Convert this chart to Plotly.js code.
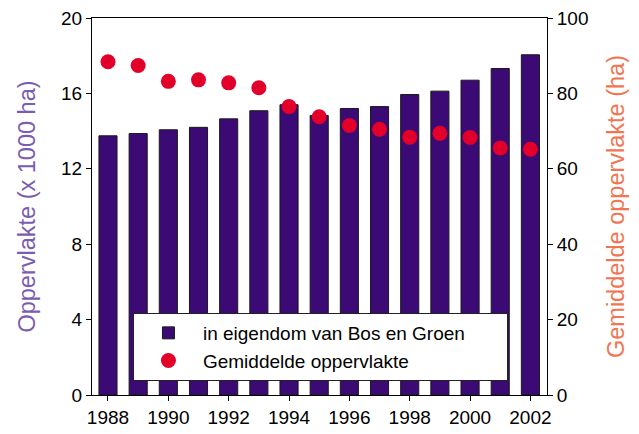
<!DOCTYPE html>
<html>
<head>
<meta charset="utf-8">
<script src="https://cdn.plot.ly/plotly-3.0.1.min.js"></script>
<style>html,body{margin:0;padding:0;background:#fff;}#chart{width:639px;height:434px;}</style>
</head>
<body>
<div id="chart"></div>
<script>
var years = [1988,1989,1990,1991,1992,1993,1994,1995,1996,1997,1998,1999,2000,2001,2002];
var oppervlakte = [13.75,13.87,14.07,14.2,14.65,15.08,15.4,14.83,15.2,15.3,15.94,16.12,16.7,17.32,18.05];
var gemiddelde = [88.4,87.4,83.2,83.6,82.8,81.5,76.5,73.8,71.5,70.5,68.4,69.4,68.3,65.5,65.2];
var xTicks = [1988,1990,1992,1994,1996,1998,2000,2002];
var barName = 'in eigendom van Bos en Groen';
var dotName = 'Gemiddelde oppervlakte';
var legendPad = '\u00a0\u00a0\u00a0\u00a0\u00a0\u00a0\u00a0';

var ff = 'Liberation Sans, Arial, sans-serif';
var traces = [
  {type:'bar', x:years, y:oppervlakte, name:barName + legendPad, width:0.6,
   marker:{color:'#3c0a74', line:{color:'#1a1a1a', width:1}}, yaxis:'y'},
  {type:'scatter', mode:'markers', x:years, y:gemiddelde, name:dotName, yaxis:'y2',
   marker:{color:'#e2002b', size:15}}
];
var font = {family:ff, size:19, color:'#000'};
var layout = {
  width:639, height:434,
  margin:{l:92, r:92, t:18, b:39},
  paper_bgcolor:'#fff', plot_bgcolor:'#fff',
  font: font,
  showlegend:true,
  legend:{x:0.09, y:0.2175, xanchor:'left', yanchor:'top', bgcolor:'#fff', bordercolor:'#222', borderwidth:1,
          font:{family:ff, size:19, color:'#000'}, itemwidth:59, tracegroupgap:0},
  xaxis:{range:[1987.47,2002.55], tickvals:xTicks, ticks:'outside', ticklen:5, tickcolor:'#000',
         showline:true, linecolor:'#000', linewidth:1, mirror:true, showgrid:false, zeroline:false,
         tickfont:font},
  yaxis:{range:[0,20], dtick:4, tick0:0, ticks:'outside', ticklen:5, tickcolor:'#000',
         showline:true, linecolor:'#000', linewidth:1, showgrid:false, zeroline:false, tickfont:font,
         title:{text:'Oppervlakte (x 1000 ha)', font:{family:ff, size:23.5, color:'#7a5cb0'}, standoff:18}},
  yaxis2:{range:[0,100], dtick:20, tick0:0, overlaying:'y', side:'right', ticks:'outside', ticklen:5, tickcolor:'#000',
         showline:true, linecolor:'#000', linewidth:1, showgrid:false, zeroline:false, tickfont:font,
         title:{text:'Gemiddelde oppervlakte (ha)', font:{family:ff, size:23.5, color:'#f07552'}, standoff:20}}
};
Plotly.newPlot('chart', traces, layout, {staticPlot:true, displayModeBar:false});
</script>
</body>
</html>
